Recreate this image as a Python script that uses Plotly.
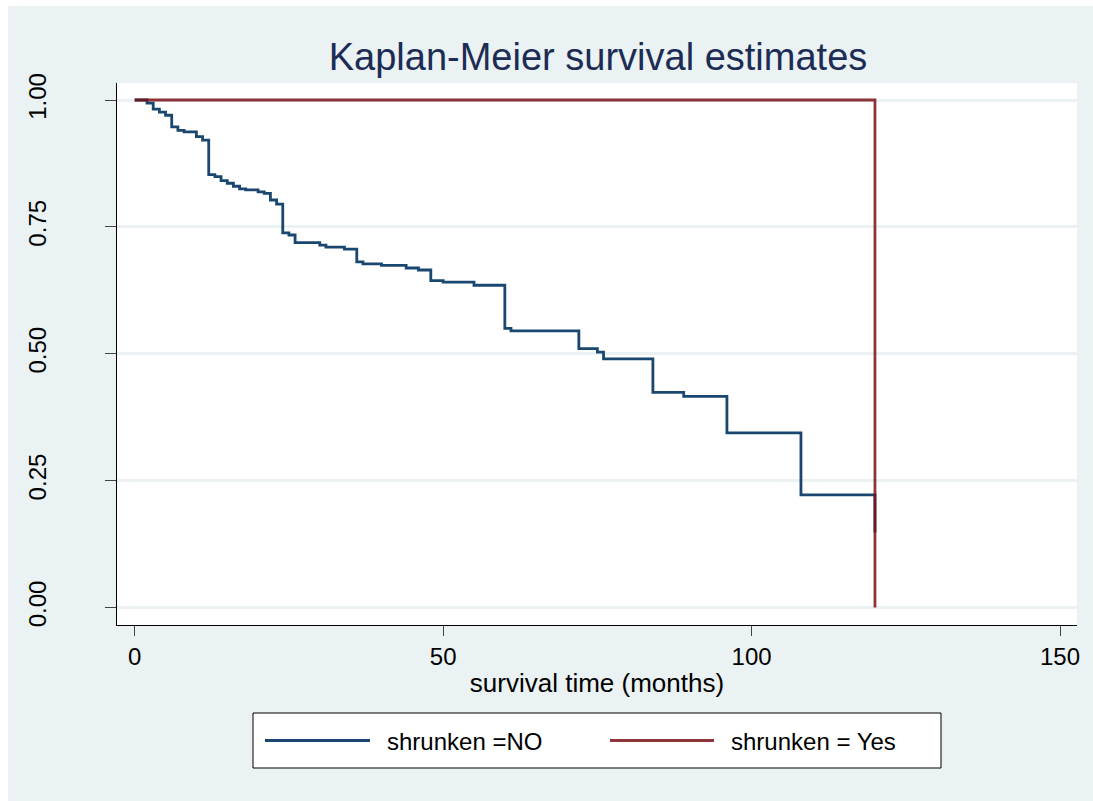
import plotly.graph_objects as go

# ---- data ----
no_time = [0, 2, 3, 4, 5, 6, 7, 8, 10, 11, 12, 13, 14, 15, 16, 17, 18, 20, 21, 22, 23,
           24, 25, 26, 30, 31, 34, 36, 37, 40, 44, 46, 48, 50, 55, 60, 61, 72, 75, 76,
           84, 89, 96, 108, 120]
no_surv = [1.0, 0.994, 0.982, 0.976, 0.970, 0.947, 0.940, 0.937, 0.928, 0.921, 0.853,
           0.849, 0.841, 0.836, 0.830, 0.825, 0.823, 0.819, 0.816, 0.803, 0.795,
           0.738, 0.734, 0.719, 0.714, 0.710, 0.706, 0.681, 0.677, 0.674, 0.669, 0.665,
           0.644, 0.641, 0.635, 0.550, 0.545, 0.510, 0.503, 0.490,
           0.424, 0.416, 0.344, 0.222, 0.148]
yes_time = [0, 120, 120]
yes_surv = [1.0, 1.0, 0.0]

series_names = ["shrunken =NO", "shrunken = Yes"]
x_ticks = [0, 50, 100, 150]
y_ticks = [0.0, 0.25, 0.5, 0.75, 1.0]
y_ticktext = ["0.00", "0.25", "0.50", "0.75", "1.00"]
title_text = "Kaplan-Meier survival estimates"
x_title = "survival time (months)"

BLUE = "#1a476f"
RED_BASE = "rgb(124,17,24)"   # with opacity 0.85 renders as #90353b on white
RED_LEG = "#90353b"
BG = "#eaf2f3"
FONT = "Liberation Sans, Arial, sans-serif"

W, H = 1093, 801
L, R, T, B = 117, 16, 83, 176
PW, PH = W - L - R, H - T - B


def px(x):
    return (x - L) / PW


def py(y):
    return (H - B - y) / PH


fig = go.Figure()
fig.add_trace(go.Scatter(x=no_time, y=no_surv, mode="lines", line_shape="hv",
                         line=dict(color=BLUE, width=2.8), name=series_names[0],
                         showlegend=False, hoverinfo="skip"))
fig.add_trace(go.Scatter(x=yes_time, y=yes_surv, mode="lines", line_shape="hv",
                         line=dict(color=RED_BASE, width=2.8), opacity=0.85,
                         name=series_names[1], showlegend=False, hoverinfo="skip"))

shapes = [
    # white page strips (top and left)
    dict(type="rect", xref="paper", yref="paper", x0=px(0), x1=px(W), y0=py(0), y1=py(6),
         fillcolor="white", line_width=0, layer="below"),
    dict(type="rect", xref="paper", yref="paper", x0=px(0), x1=px(8), y0=py(H), y1=py(0),
         fillcolor="white", line_width=0, layer="below"),
    # legend box
    dict(type="rect", xref="paper", yref="paper", x0=px(253), x1=px(941), y0=py(768), y1=py(713),
         fillcolor="white", line=dict(color="black", width=1)),
    dict(type="line", xref="paper", yref="paper", x0=px(265), x1=px(370), y0=py(740.5), y1=py(740.5),
         line=dict(color=BLUE, width=2.8)),
    dict(type="line", xref="paper", yref="paper", x0=px(610), x1=px(714), y0=py(740.5), y1=py(740.5),
         line=dict(color=RED_LEG, width=2.8)),
]

annotations = [
    dict(text=series_names[0], xref="paper", yref="paper", x=px(385), y=py(741),
         xanchor="left", yanchor="middle", showarrow=False,
         font=dict(family=FONT, size=24, color="black")),
    dict(text=series_names[1], xref="paper", yref="paper", x=px(729), y=py(741),
         xanchor="left", yanchor="middle", showarrow=False,
         font=dict(family=FONT, size=24, color="black")),
]

fig.update_layout(
    width=W, height=H,
    margin=dict(l=L, r=R, t=T, b=B, pad=0),
    paper_bgcolor=BG, plot_bgcolor="white",
    font=dict(family=FONT, color="black"),
    title=dict(text=title_text, x=px(598), xref="paper", xanchor="center",
               y=1 - 57 / H, yref="container", yanchor="middle",
               font=dict(family=FONT, size=38, color="#1c2c54")),
    shapes=shapes, annotations=annotations,
    showlegend=False,
)

fig.update_xaxes(range=[-2.87, 152.75], tickvals=x_ticks, showgrid=False, zeroline=False,
                 showline=True, linecolor="black", linewidth=1.3,
                 ticks="outside", ticklen=10, tickcolor="#444", tickwidth=1.3,
                 tickfont=dict(family=FONT, size=24, color="black"),
                 title=dict(text=x_title, standoff=4, font=dict(family=FONT, size=26, color="black")))
fig.update_yaxes(range=[-0.0345, 1.0335], tickvals=y_ticks, ticktext=y_ticktext,
                 showgrid=True, gridcolor=BG, gridwidth=2.5, zeroline=False,
                 showline=True, linecolor="black", linewidth=1.3,
                 ticks="outside", ticklen=11, tickcolor="#444", tickwidth=1.3,
                 tickangle=-90, ticklabelstandoff=49,
                 tickfont=dict(family=FONT, size=24, color="black"))

fig.write_html("out.html")
